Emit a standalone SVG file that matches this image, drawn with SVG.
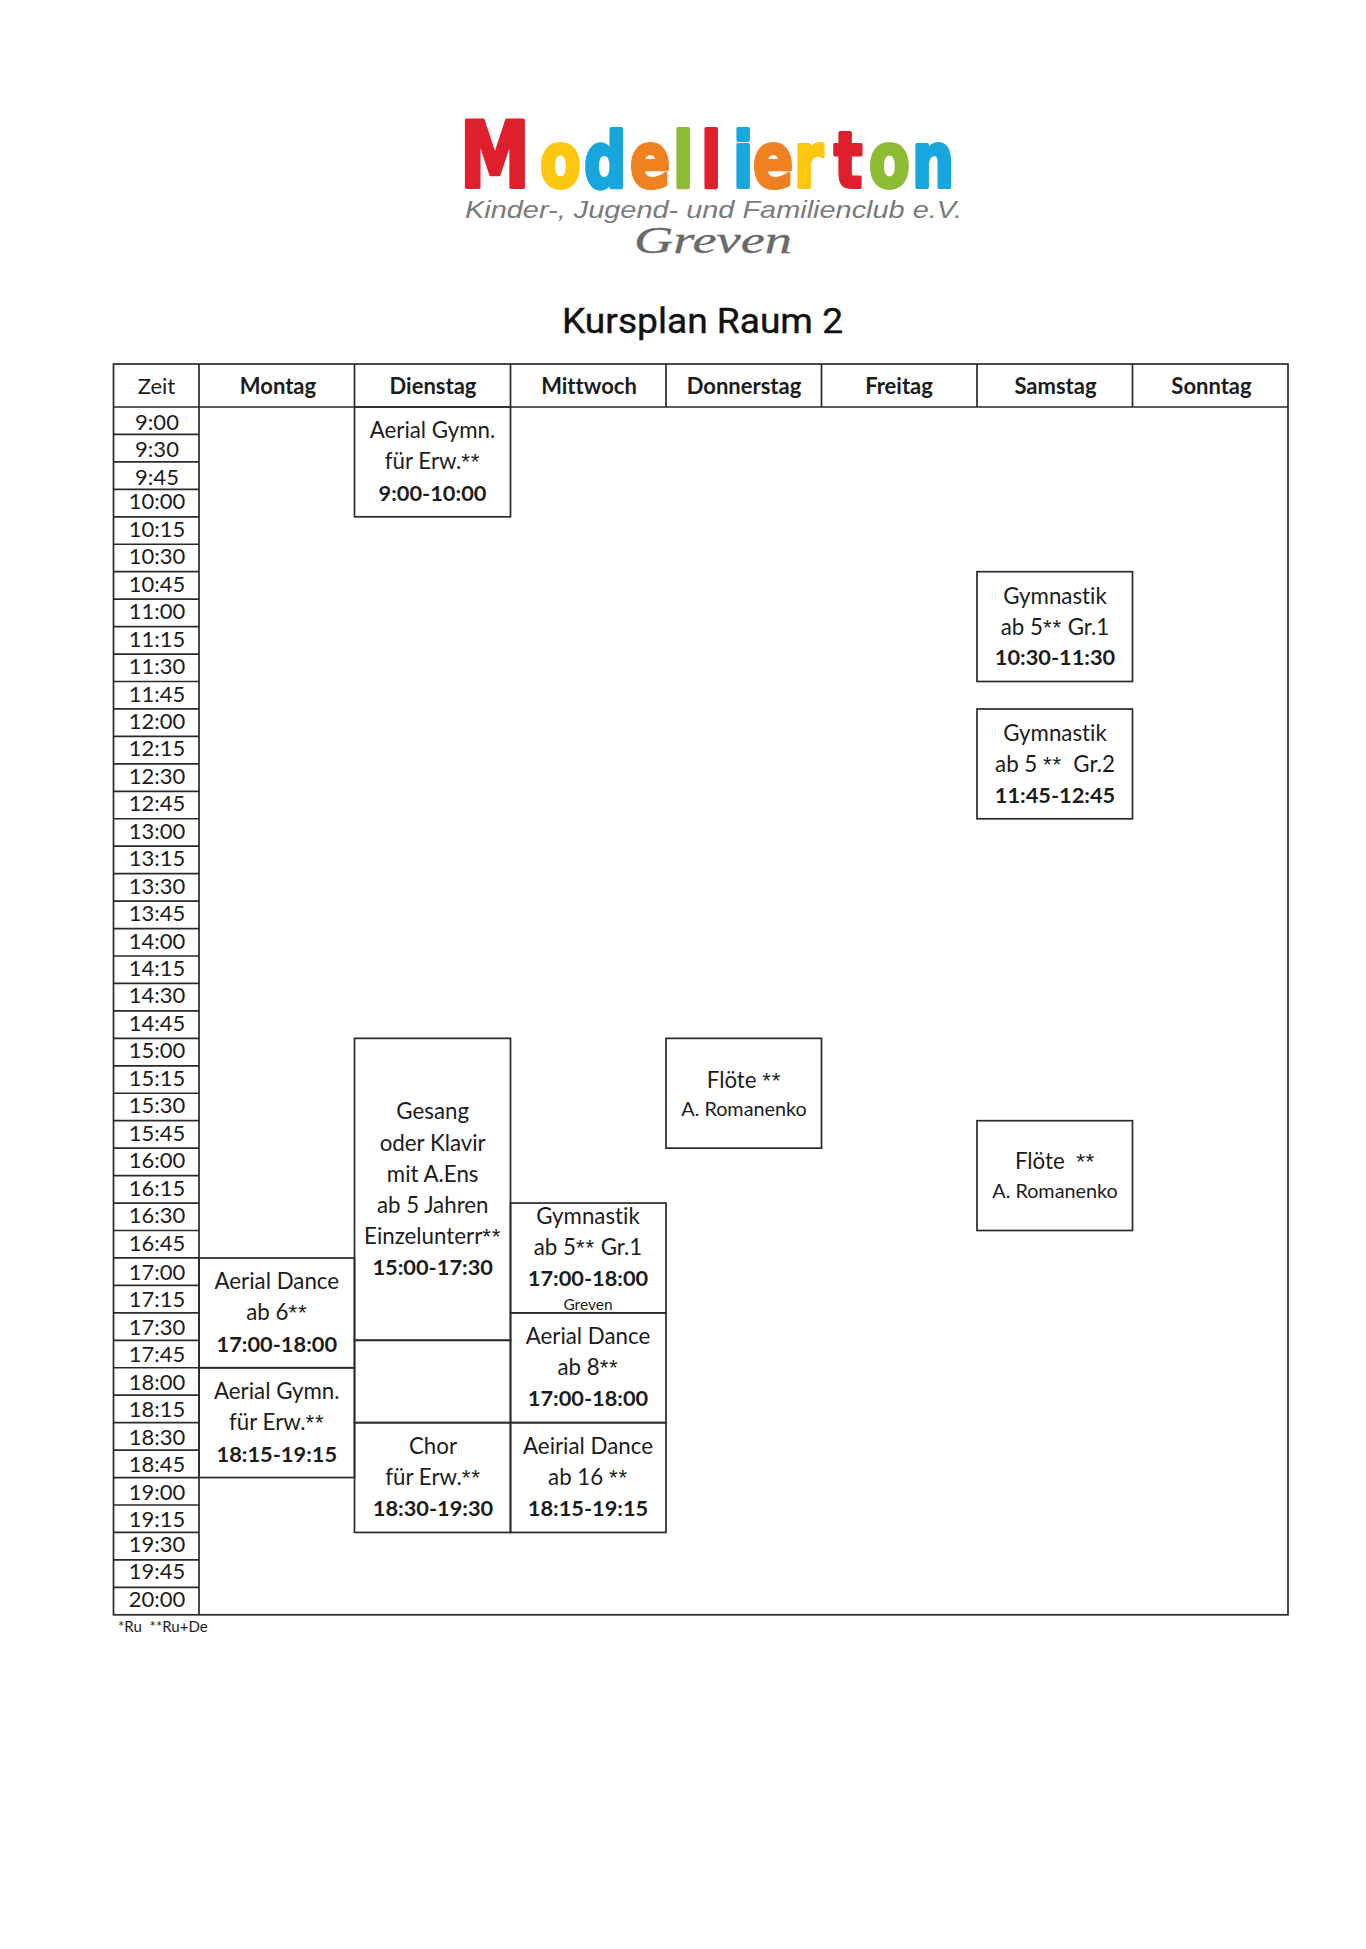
<svg xmlns="http://www.w3.org/2000/svg" width="1366" height="1949" viewBox="0 0 1366 1949">
<style>
text{font-family:"Lato","Open Sans","Liberation Sans",sans-serif;fill:#1c1c1c;text-anchor:middle;white-space:pre;font-variant-ligatures:none}
.b{font-size:22.3px}
.t{font-size:21.8px;font-weight:700}
.s{font-size:19.8px}
.z{font-size:22px}
.h{font-size:22px;font-weight:700}
.g{font-size:15.5px}
.a{font-family:"Liberation Sans",sans-serif;letter-spacing:.8px}
.box,.ln{fill:none;stroke:#2a2a2a;stroke-width:1.7}
text.lg{font-family:"DejaVu Sans",sans-serif;font-weight:700;stroke-width:4;stroke-linejoin:round;text-anchor:start;font-size:76px}
.r{fill:#e01f2d;stroke:#e01f2d}
.y{fill:#fdc70f;stroke:#fdc70f}
.c{fill:#18a6de;stroke:#18a6de}
.o{fill:#ef8120;stroke:#ef8120}
.n{fill:#8dbb34;stroke:#8dbb34}
</style>
<rect width="1366" height="1949" fill="#fff"/>
<g id="logo">
<text class="lg" y="187" transform="scale(.78 1)"><tspan class="r" x="589.7" style="font-size:90px">M</tspan><tspan class="y" x="692.3">o</tspan><tspan class="c" x="748.7">d</tspan><tspan class="o" x="807.7">e</tspan><tspan class="n" x="862.8">l</tspan><tspan class="r" x="898.7">l</tspan><tspan class="c" x="939.7">i</tspan><tspan class="o" x="965.4">e</tspan><tspan class="y" x="1017.9">r</tspan><tspan class="r" x="1069.2">t</tspan><tspan class="n" x="1114.1">o</tspan><tspan class="c" x="1169.2">n</tspan></text>
<text x="465" y="218" style="font-family:'Liberation Sans',sans-serif;font-style:italic;font-size:24px;fill:#7a7a7a;text-anchor:start" textLength="497" lengthAdjust="spacingAndGlyphs">Kinder-, Jugend- und Familienclub e.V.</text>
<text x="634" y="253" style="font-family:'Liberation Serif',serif;font-style:italic;font-size:38px;fill:#6a6a6a;stroke:#6a6a6a;stroke-width:.3;text-anchor:start" textLength="158" lengthAdjust="spacingAndGlyphs">Greven</text>
</g>
<text id="title" x="702.5" y="333" style="font-family:'Roboto',sans-serif;font-weight:400;font-size:35px;fill:#111;stroke:#111;stroke-width:.4" textLength="281" lengthAdjust="spacingAndGlyphs">Kursplan Raum 2</text>
<g id="grid">
<rect class="box" x="113.5" y="364" width="1174.5" height="1250.8"/>
<path class="ln" d="M113.5 407H1288M199 364V1614.8M354.5 364V407M510.5 364V407M666 364V407M821.5 364V407M977 364V407M1132.5 364V407"/>
<path class="ln" d="M113.5 434.45H199M113.5 461.9H199M113.5 489.35H199M113.5 516.8H199M113.5 544.25H199M113.5 571.7H199M113.5 599.15H199M113.5 626.6H199M113.5 654.05H199M113.5 681.5H199M113.5 708.95H199M113.5 736.4H199M113.5 763.85H199M113.5 791.3H199M113.5 818.75H199M113.5 846.2H199M113.5 873.65H199M113.5 901.1H199M113.5 928.55H199M113.5 956H199M113.5 983.45H199M113.5 1010.9H199M113.5 1038.35H199M113.5 1065.8H199M113.5 1093.25H199M113.5 1120.7H199M113.5 1148.15H199M113.5 1175.6H199M113.5 1203.05H199M113.5 1230.5H199M113.5 1257.95H199M113.5 1285.4H199M113.5 1312.85H199M113.5 1340.3H199M113.5 1367.75H199M113.5 1395.2H199M113.5 1422.65H199M113.5 1450.1H199M113.5 1477.55H199M113.5 1505H199M113.5 1532.45H199M113.5 1559.9H199M113.5 1587.35H199"/>
</g>
<g id="headers">
<text class="z" x="156.5" y="394">Zeit</text>
<text class="h" x="278" y="394">Montag</text>
<text class="h" x="433" y="394">Dienstag</text>
<text class="h" x="589" y="394">Mittwoch</text>
<text class="h" x="744" y="394">Donnerstag</text>
<text class="h" x="899" y="394">Freitag</text>
<text class="h" x="1055.5" y="394">Samstag</text>
<text class="h" x="1211.5" y="394">Sonntag</text>
</g>
<g id="times">
<text class="z" x="157" y="430">9:00</text>
<text class="z" x="157" y="457.3">9:30</text>
<text class="z" x="157" y="484.7">9:45</text>
<text class="z" x="157" y="509.3">10:00</text>
<text class="z" x="157" y="536.8">10:15</text>
<text class="z" x="157" y="564.2">10:30</text>
<text class="z" x="157" y="591.7">10:45</text>
<text class="z" x="157" y="619.1">11:00</text>
<text class="z" x="157" y="646.6">11:15</text>
<text class="z" x="157" y="674">11:30</text>
<text class="z" x="157" y="701.5">11:45</text>
<text class="z" x="157" y="729">12:00</text>
<text class="z" x="157" y="756.4">12:15</text>
<text class="z" x="157" y="783.9">12:30</text>
<text class="z" x="157" y="811.3">12:45</text>
<text class="z" x="157" y="838.8">13:00</text>
<text class="z" x="157" y="866.2">13:15</text>
<text class="z" x="157" y="893.7">13:30</text>
<text class="z" x="157" y="921.1">13:45</text>
<text class="z" x="157" y="948.5">14:00</text>
<text class="z" x="157" y="976">14:15</text>
<text class="z" x="157" y="1003.4">14:30</text>
<text class="z" x="157" y="1030.9">14:45</text>
<text class="z" x="157" y="1058.3">15:00</text>
<text class="z" x="157" y="1085.8">15:15</text>
<text class="z" x="157" y="1113.2">15:30</text>
<text class="z" x="157" y="1140.7">15:45</text>
<text class="z" x="157" y="1168.1">16:00</text>
<text class="z" x="157" y="1195.6">16:15</text>
<text class="z" x="157" y="1223">16:30</text>
<text class="z" x="157" y="1250.5">16:45</text>
<text class="z" x="157" y="1280">17:00</text>
<text class="z" x="157" y="1307.4">17:15</text>
<text class="z" x="157" y="1334.9">17:30</text>
<text class="z" x="157" y="1362.3">17:45</text>
<text class="z" x="157" y="1389.8">18:00</text>
<text class="z" x="157" y="1417.2">18:15</text>
<text class="z" x="157" y="1444.7">18:30</text>
<text class="z" x="157" y="1472.1">18:45</text>
<text class="z" x="157" y="1499.6">19:00</text>
<text class="z" x="157" y="1527">19:15</text>
<text class="z" x="157" y="1552">19:30</text>
<text class="z" x="157" y="1579.4">19:45</text>
<text class="z" x="157" y="1606.9">20:00</text>
</g>
<g id="node-di-aerial-gymn"><rect class="box" x="354.5" y="407" width="156" height="109.8"/>
<text class="b" x="432.5" y="438">Aerial Gymn.</text><text class="b" x="432.5" y="469">für Erw.<tspan class="a">**</tspan></text><text class="t" x="432.5" y="500.7">9:00-10:00</text></g>
<g id="node-sa-gym1"><rect class="box" x="977" y="571.7" width="155.5" height="109.8"/>
<text class="b" x="1055" y="604">Gymnastik</text><text class="b" x="1055" y="634.5">ab 5<tspan class="a">**</tspan> Gr.1</text><text class="t" x="1055" y="665">10:30-11:30</text></g>
<g id="node-sa-gym2"><rect class="box" x="977" y="709" width="155.5" height="109.8"/>
<text class="b" x="1055" y="740.7">Gymnastik</text><text class="b" x="1055" y="771.7">ab 5 <tspan class="a">**</tspan>  Gr.2</text><text class="t" x="1055" y="802.7">11:45-12:45</text></g>
<g id="node-di-gesang"><rect class="box" x="354.5" y="1038.35" width="156" height="301.95"/>
<text class="b" x="432.7" y="1119">Gesang</text><text class="b" x="432.7" y="1150.5">oder Klavir</text><text class="b" x="432.7" y="1181.7">mit A.Ens</text><text class="b" x="432.7" y="1212.7">ab 5 Jahren</text><text class="b" x="432.7" y="1244">Einzelunterr<tspan class="a">**</tspan></text><text class="t" x="432.7" y="1275">15:00-17:30</text></g>
<g id="node-di-empty"><rect class="box" x="354.5" y="1340.3" width="156" height="82.35"/></g>
<g id="node-do-floete"><rect class="box" x="666" y="1038.35" width="155.5" height="109.8"/>
<text class="b" x="744" y="1087.7">Flöte <tspan class="a">**</tspan></text><text class="s" x="744" y="1116">A. Romanenko</text></g>
<g id="node-sa-floete"><rect class="box" x="977" y="1120.7" width="155.5" height="109.8"/>
<text class="b" x="1055" y="1169">Flöte  <tspan class="a">**</tspan></text><text class="s" x="1055" y="1197.7">A. Romanenko</text></g>
<g id="node-mi-gym"><rect class="box" x="510.5" y="1203.05" width="155.5" height="109.8"/>
<text class="b" x="588" y="1224">Gymnastik</text><text class="b" x="588" y="1255">ab 5<tspan class="a">**</tspan> Gr.1</text><text class="t" x="588" y="1286">17:00-18:00</text><text class="g" x="588" y="1310">Greven</text></g>
<g id="node-mi-aerial8"><rect class="box" x="510.5" y="1312.85" width="155.5" height="109.8"/>
<text class="b" x="588" y="1344">Aerial Dance</text><text class="b" x="588" y="1375">ab 8<tspan class="a">**</tspan></text><text class="t" x="588" y="1406">17:00-18:00</text></g>
<g id="node-mi-aeirial16"><rect class="box" x="510.5" y="1422.65" width="155.5" height="109.8"/>
<text class="b" x="588" y="1454">Aeirial Dance</text><text class="b" x="588" y="1485">ab 16 <tspan class="a">**</tspan></text><text class="t" x="588" y="1516">18:15-19:15</text></g>
<g id="node-di-chor"><rect class="box" x="354.5" y="1422.65" width="156" height="109.8"/>
<text class="b" x="433" y="1454">Chor</text><text class="b" x="433" y="1485">für Erw.<tspan class="a">**</tspan></text><text class="t" x="433" y="1516">18:30-19:30</text></g>
<g id="node-mo-aerial6"><rect class="box" x="199" y="1257.95" width="155.5" height="109.8"/>
<text class="b" x="276.8" y="1289">Aerial Dance</text><text class="b" x="276.8" y="1320">ab 6<tspan class="a">**</tspan></text><text class="t" x="276.8" y="1351.7">17:00-18:00</text></g>
<g id="node-mo-gymn"><rect class="box" x="199" y="1367.75" width="155.5" height="109.8"/>
<text class="b" x="276.8" y="1399">Aerial Gymn.</text><text class="b" x="276.8" y="1430">für Erw.<tspan class="a">**</tspan></text><text class="t" x="276.8" y="1461.7">18:15-19:15</text></g>
<text id="footnote" class="g" x="118" y="1632" style="text-anchor:start;font-size:15px">*Ru  **Ru+De</text>
</svg>
